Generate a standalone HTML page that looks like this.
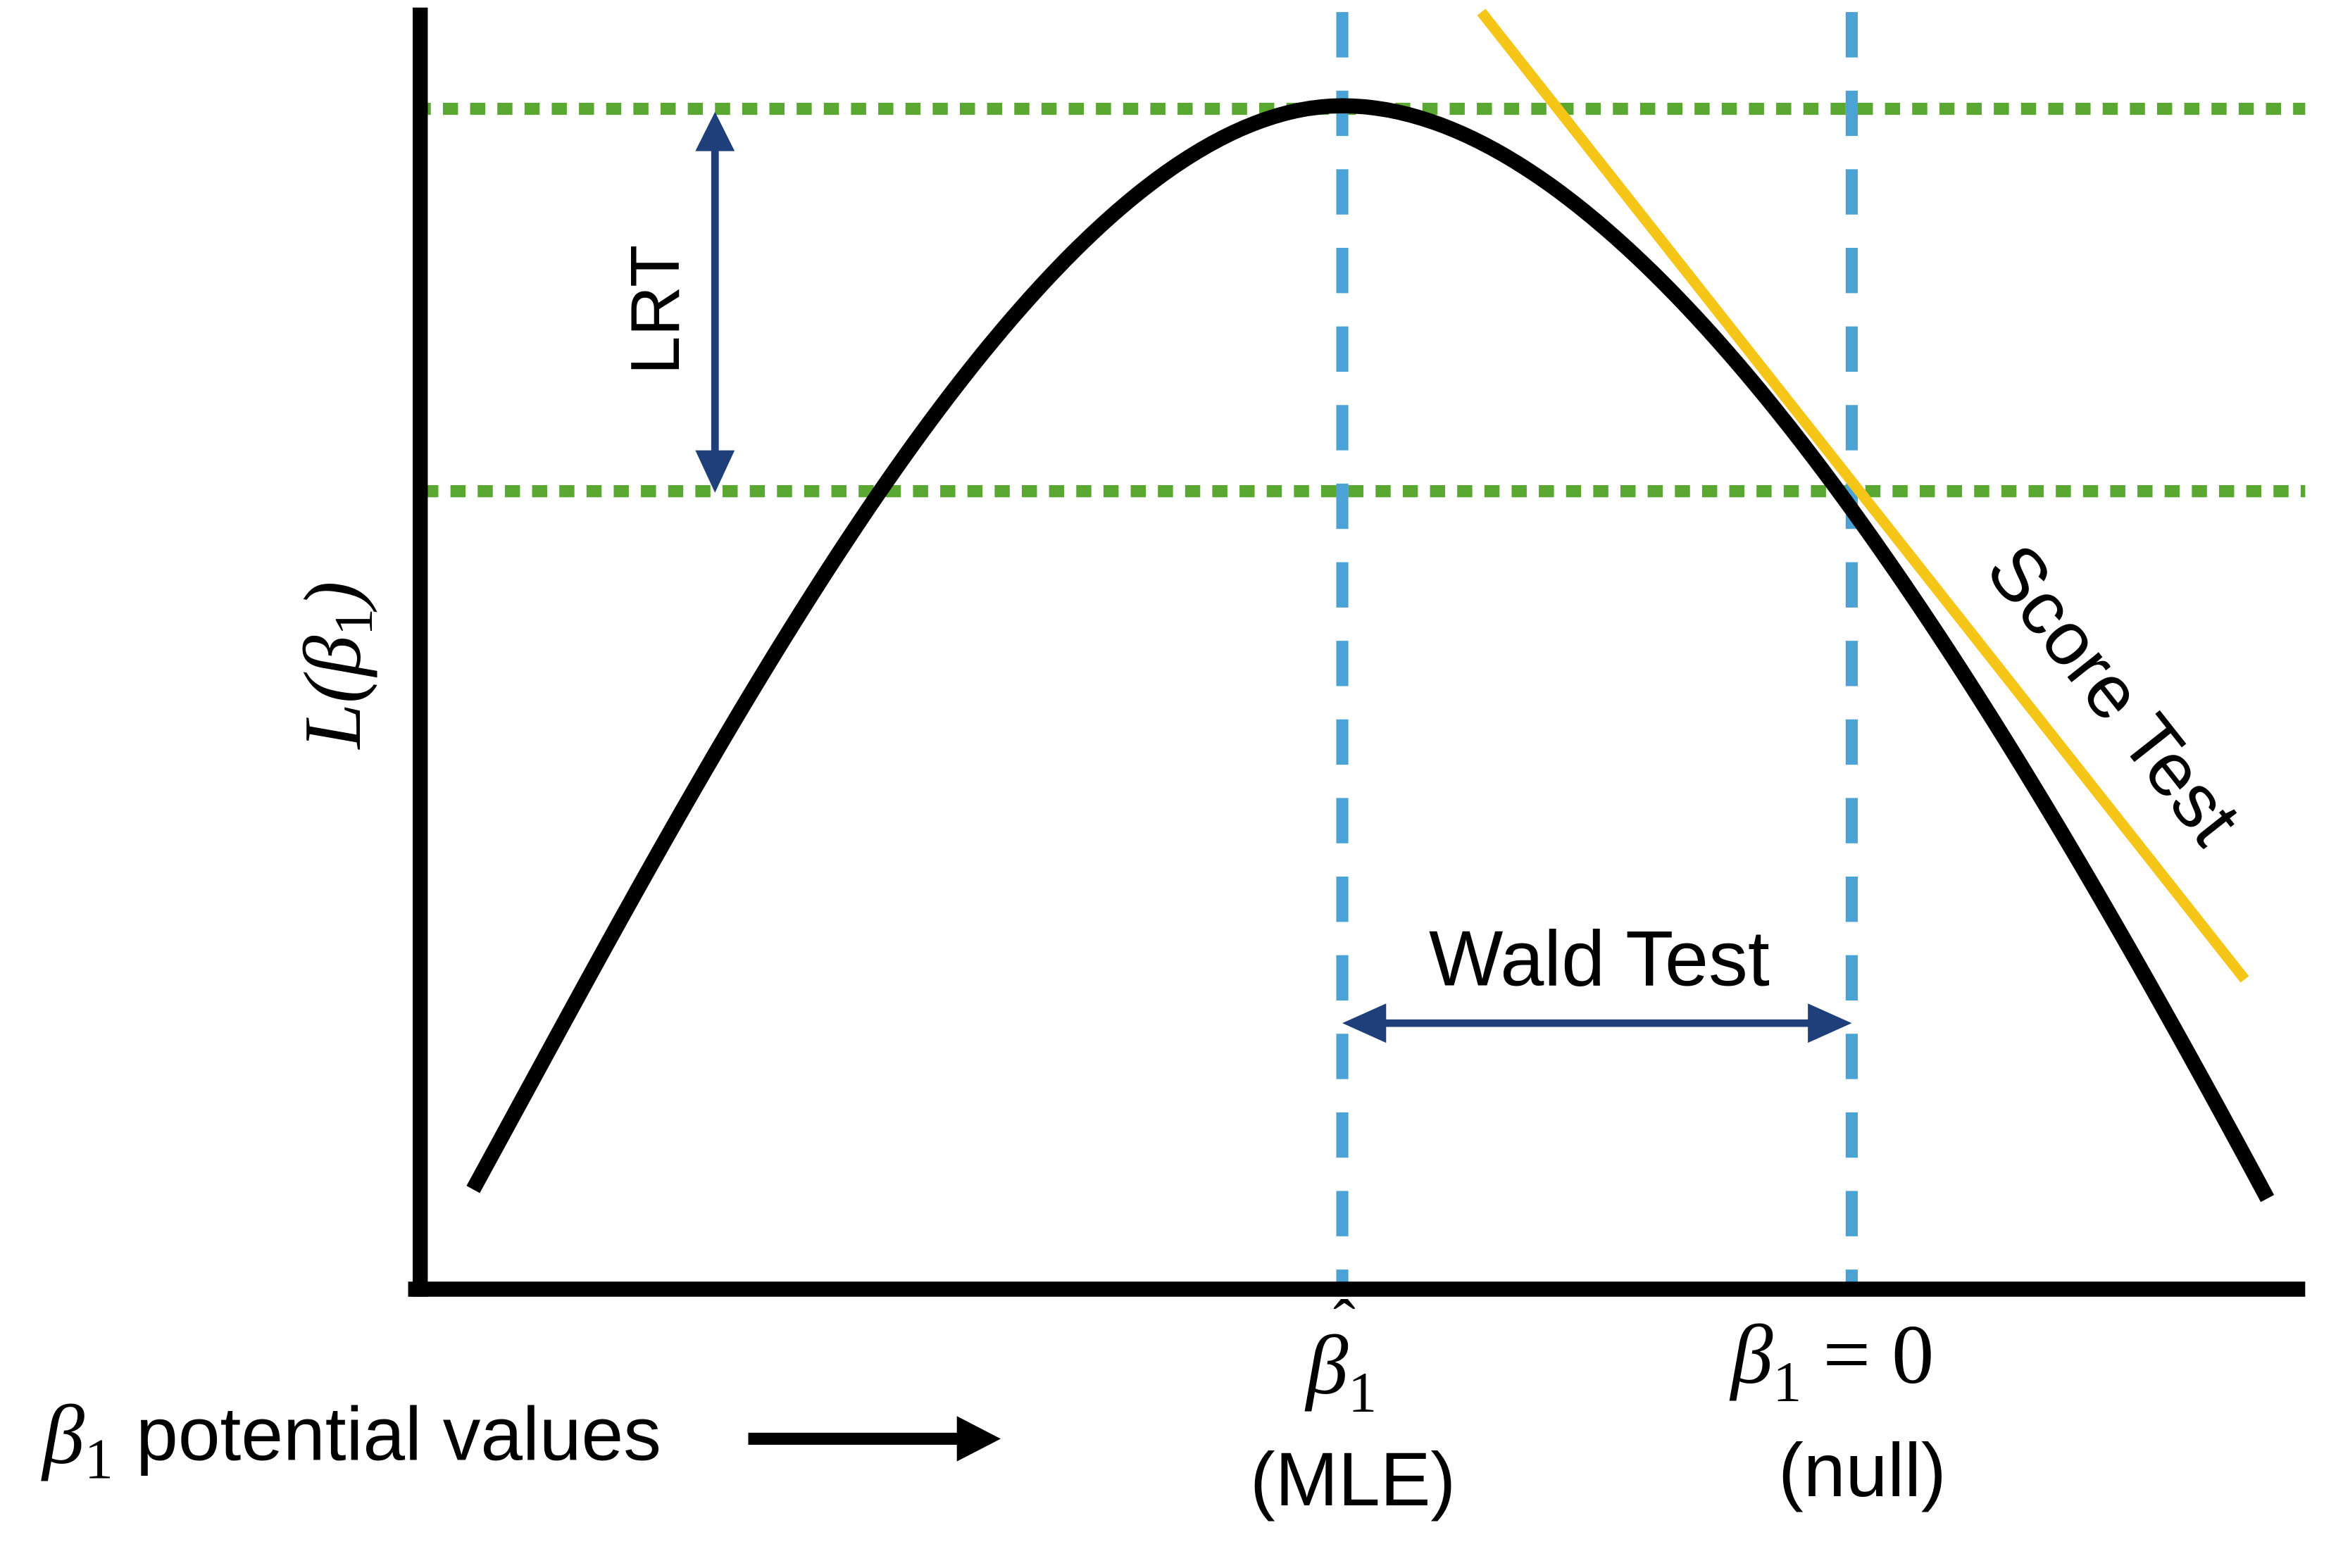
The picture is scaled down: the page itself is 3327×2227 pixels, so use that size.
<!DOCTYPE html>
<html><head><style>html,body{margin:0;padding:0;background:#fff}svg{display:block}</style></head>
<body>
<svg width="3327" height="2227" viewBox="0 0 1550 1037.5" preserveAspectRatio="none" xmlns="http://www.w3.org/2000/svg">
<rect width="1550" height="1037.5" fill="#fff"/>
<line x1="275" y1="72" x2="1525" y2="72" stroke="#5aa832" stroke-width="8" stroke-dasharray="10 8"/>
<line x1="280" y1="325" x2="1525" y2="325" stroke="#5aa832" stroke-width="8" stroke-dasharray="10 8"/>
<line x1="888" y1="8" x2="888" y2="855" stroke="#4aa3d4" stroke-width="8" stroke-dasharray="30 22"/>
<line x1="1225" y1="8" x2="1225" y2="855" stroke="#4aa3d4" stroke-width="8" stroke-dasharray="30 22"/>
<path d="M313,787 C470,500 690,70 888,70 C1080,70 1300,420 1500,793" fill="none" stroke="#000" stroke-width="10"/>
<line x1="980" y1="8" x2="1485" y2="648" stroke="#f5c518" stroke-width="7"/>
<line x1="278" y1="5" x2="278" y2="858" stroke="#000" stroke-width="10"/>
<line x1="270" y1="853" x2="1525" y2="853" stroke="#000" stroke-width="10"/>
<line x1="473" y1="95" x2="473" y2="305" stroke="#1f3f7a" stroke-width="5"/>
<polygon points="473,74 460,100 486,100" fill="#1f3f7a"/>
<polygon points="473,326 460,298 486,298" fill="#1f3f7a"/>
<text transform="translate(449,205) rotate(-90)" text-anchor="middle" font-family="Liberation Sans Narrow, Liberation Sans, sans-serif" font-size="46">LRT</text>
<line x1="910" y1="677" x2="1200" y2="677" stroke="#1f3f7a" stroke-width="5"/>
<polygon points="888,677 917,664 917,690" fill="#1f3f7a"/>
<polygon points="1225,677 1196,664 1196,690" fill="#1f3f7a"/>
<text x="1058" y="652" text-anchor="middle" font-family="Liberation Sans Narrow, Liberation Sans, sans-serif" font-size="52">Wald Test</text>
<text transform="translate(1385,470) rotate(51.7)" text-anchor="middle" font-family="Liberation Sans Narrow, Liberation Sans, sans-serif" font-size="50">Score Test</text>
<text transform="translate(238,440) rotate(-90)" text-anchor="middle" font-family="Liberation Serif, serif" font-style="italic" font-size="54">L(β<tspan font-size="36" dy="8" font-style="normal">1</tspan><tspan dy="-8">)</tspan></text>
<text x="864" y="922" font-family="Liberation Serif, serif" font-style="italic" font-size="56">β<tspan font-size="38" dy="12" font-style="normal">1</tspan></text>
<text x="882" y="890" font-family="Liberation Serif, serif" font-size="44">ˆ</text>
<text x="895" y="996" text-anchor="middle" font-family="Liberation Sans Narrow, Liberation Sans, sans-serif" font-size="50">(MLE)</text>
<text x="1145" y="915" font-family="Liberation Serif, serif" font-style="italic" font-size="56">β<tspan font-size="38" dy="12" font-style="normal">1</tspan><tspan dy="-12" font-style="normal"> = 0</tspan></text>
<text x="1232" y="990" text-anchor="middle" font-family="Liberation Sans Narrow, Liberation Sans, sans-serif" font-size="50">(null)</text>
<text x="28" y="968" font-family="Liberation Serif, serif" font-style="italic" font-size="56">β<tspan font-size="38" dy="10" font-style="normal">1</tspan></text>
<text x="90" y="966" font-family="Liberation Sans Narrow, Liberation Sans, sans-serif" font-size="50">potential values</text>
<line x1="495" y1="952" x2="640" y2="952" stroke="#000" stroke-width="8"/>
<polygon points="662,952 633,937 633,967" fill="#000"/>
</svg>
</body></html>
